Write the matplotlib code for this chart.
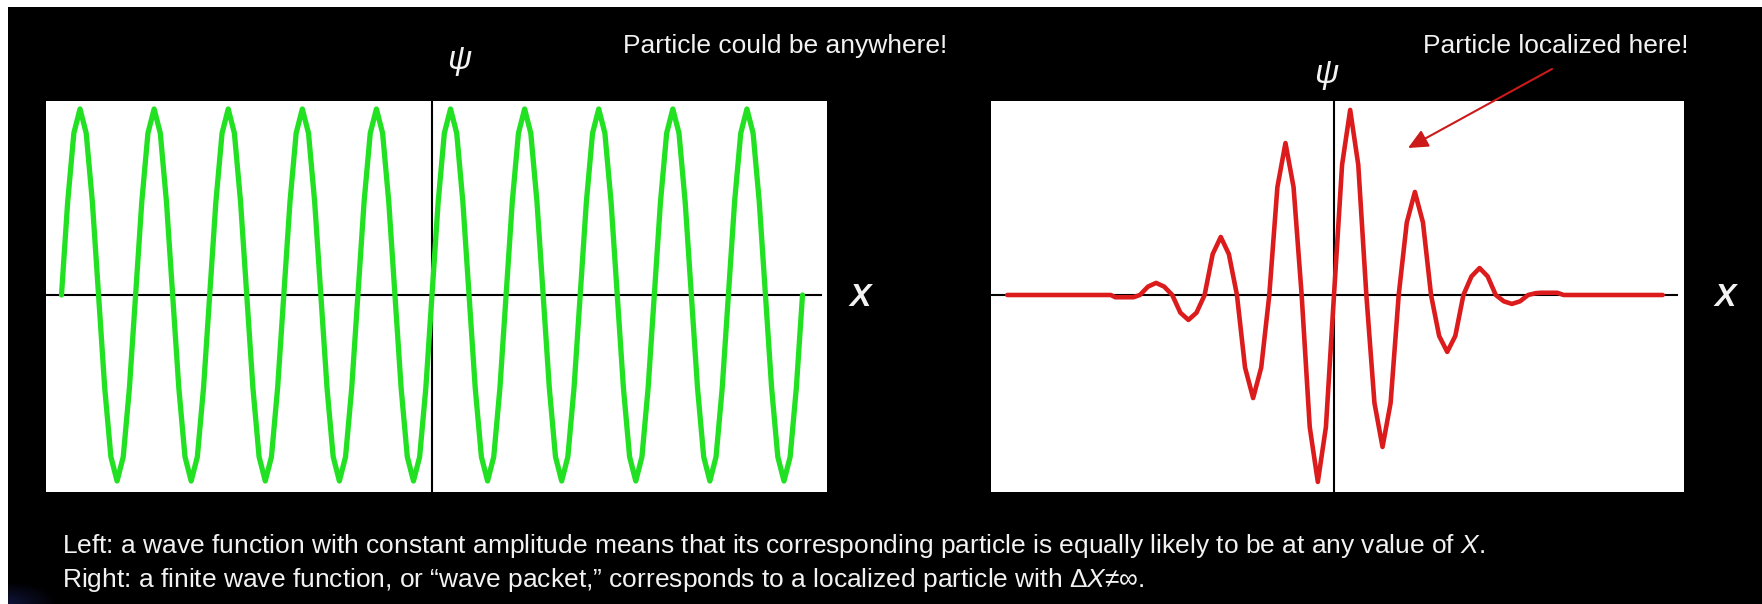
import numpy as np
import matplotlib
matplotlib.use("Agg")
import matplotlib.pyplot as plt
from matplotlib.patches import Rectangle

plt.rcParams['font.family'] = ['Liberation Sans', 'DejaVu Sans']
plt.rcParams['mathtext.fontset'] = 'custom'
plt.rcParams['mathtext.rm'] = 'Liberation Sans'
plt.rcParams['mathtext.it'] = 'Liberation Sans:italic'
plt.rcParams['mathtext.bf'] = 'Liberation Sans:bold:italic'

# ---------------- data ----------------
# Left: constant-amplitude wave (x in wavelengths, psi in relative units)
GREEN_X = np.linspace(-5, 5, 121)
GREEN_Y = [
    0, 0.5, 0.87, 1.0, 0.87, 0.5, 0, -0.5, -0.87, -1.0, -0.87, -0.5,
    0, 0.5, 0.87, 1.0, 0.87, 0.5, 0, -0.5, -0.87, -1.0, -0.87, -0.5,
    0, 0.5, 0.87, 1.0, 0.87, 0.5, 0, -0.5, -0.87, -1.0, -0.87, -0.5,
    0, 0.5, 0.87, 1.0, 0.87, 0.5, 0, -0.5, -0.87, -1.0, -0.87, -0.5,
    0, 0.5, 0.87, 1.0, 0.87, 0.5, 0, -0.5, -0.87, -1.0, -0.87, -0.5,
    0, 0.5, 0.87, 1.0, 0.87, 0.5, 0, -0.5, -0.87, -1.0, -0.87, -0.5,
    0, 0.5, 0.87, 1.0, 0.87, 0.5, 0, -0.5, -0.87, -1.0, -0.87, -0.5,
    0, 0.5, 0.87, 1.0, 0.87, 0.5, 0, -0.5, -0.87, -1.0, -0.87, -0.5,
    0, 0.5, 0.87, 1.0, 0.87, 0.5, 0, -0.5, -0.87, -1.0, -0.87, -0.5,
    0, 0.5, 0.87, 1.0, 0.87, 0.5, 0, -0.5, -0.87, -1.0, -0.87, -0.5,
    0,
]

# Right: wave packet
RED_X = [-5.05, -3.45, -3.38, -3.10,
         -3.0, -2.875, -2.75, -2.625, -2.5, -2.375, -2.25, -2.125,
         -2.0, -1.875, -1.75, -1.625, -1.5, -1.375, -1.25, -1.125,
         -1.0, -0.875, -0.75, -0.625, -0.5, -0.375, -0.25, -0.125,
         0.0, 0.125, 0.25, 0.375, 0.5, 0.625, 0.75, 0.875,
         1.0, 1.125, 1.25, 1.375, 1.5, 1.625, 1.75, 1.875,
         2.0, 2.125, 2.25, 2.375, 2.5, 2.625, 2.75, 2.875,
         3.0, 3.12, 3.2, 3.45, 3.55, 5.08]
RED_Y = [0, 0, -0.012, -0.012,
         0, 0.045, 0.065, 0.045, 0, -0.095, -0.134, -0.095,
         0, 0.22, 0.312, 0.22, 0, -0.39, -0.554, -0.39,
         0, 0.58, 0.817, 0.58, 0, -0.71, -1.005, -0.71,
         0, 0.70, 0.995, 0.70, 0, -0.58, -0.817, -0.58,
         0, 0.39, 0.554, 0.39, 0, -0.22, -0.306, -0.22,
         0, 0.10, 0.145, 0.10, 0, -0.034, -0.048, -0.034,
         0, 0.01, 0.012, 0.012, 0, 0]

LEFT_LABEL = "Particle could be anywhere!"
RIGHT_LABEL = "Particle localized here!"
CAPTION_1 = ("Left: a wave function with constant amplitude means that its "
             "corresponding particle is equally likely to be at any value of $X$.")
CAPTION_2 = ("Right: a finite wave function, or \u201cwave packet,\u201d corresponds "
             "to a localized particle with \u0394$X$\u2260\u221e.")

# ---------------- figure ----------------
W, H = 1762, 604
fig = plt.figure(figsize=(W / 100, H / 100), dpi=100, facecolor='white')


def fx(px):
    return px / W


def fy(py):
    return 1 - py / H


# black slide background
fig.add_artist(Rectangle((fx(8), 0), 1 - fx(8), fy(7), transform=fig.transFigure,
                         facecolor='black', edgecolor='none', zorder=0))

# faint blue glow in the bottom-left corner
glow_ax = fig.add_axes([fx(8), 0, fx(60), 22 / H])
gx, gy = np.meshgrid(np.linspace(0, 1, 60), np.linspace(0, 1, 22))
dist = np.sqrt((gx * 1.0) ** 2 + ((1 - gy) * 0.8) ** 2)
alpha = np.clip(1 - dist * 1.2, 0, 1) * 0.4
img = np.zeros((22, 60, 4))
img[..., 0] = 0.15
img[..., 1] = 0.2
img[..., 2] = 0.55
img[..., 3] = alpha
glow_ax.imshow(img, aspect='auto', origin='upper')
glow_ax.axis('off')


def make_panel(left, right, top, bottom, axis_px, px_per_unit, axis_end_px):
    ax = fig.add_axes([fx(left), fy(bottom), fx(right - left), (bottom - top) / H])
    ax.set_facecolor('white')
    ax.set_xlim((left - axis_px) / px_per_unit, (right - axis_px) / px_per_unit)
    zero_py = 295
    unit = 186
    ax.set_ylim(-(bottom - zero_py) / unit, (zero_py - top) / unit)
    for s in ax.spines.values():
        s.set_visible(False)
    ax.set_xticks([])
    ax.set_yticks([])
    ax.plot([ax.get_xlim()[0], (axis_end_px - axis_px) / px_per_unit], [0, 0],
            color='black', lw=1.5, zorder=1, solid_capstyle='butt')
    ax.axvline(0, color='black', lw=1.5, zorder=1)
    return ax


axL = make_panel(46, 827, 101, 492, 432, 74.1, 822)
axL.plot(GREEN_X, GREEN_Y, color='#22e022', lw=3.8, zorder=2,
         solid_joinstyle='round', solid_capstyle='round')

axR = make_panel(991, 1684, 101, 492, 1334, 64.7, 1678)
axR.plot(RED_X, RED_Y, color='#dc1c1c', lw=3.3, zorder=2,
         solid_joinstyle='round', solid_capstyle='round')

# labels
txt_col = '#f2f2f2'
fig.text(fx(623), fy(53), LEFT_LABEL, color=txt_col, fontsize=19, va='baseline', ha='left')
fig.text(fx(1423), fy(53), RIGHT_LABEL, color=txt_col, fontsize=19, va='baseline', ha='left')

fig.text(fx(460), fy(62), r'$\psi$', color=txt_col, fontsize=24, va='center', ha='center')
fig.text(fx(1327), fy(75), r'$\psi$', color=txt_col, fontsize=24, va='center', ha='center')

fig.text(fx(860), fy(298), 'X', color=txt_col, fontsize=23, fontweight='bold',
         fontstyle='italic', va='center', ha='center')
fig.text(fx(1725), fy(298), 'X', color=txt_col, fontsize=23, fontweight='bold',
         fontstyle='italic', va='center', ha='center')

fig.text(fx(62), fy(553), CAPTION_1, color=txt_col, fontsize=19, va='baseline', ha='left')
fig.text(fx(62), fy(587), CAPTION_2, color=txt_col, fontsize=19, va='baseline', ha='left')

# arrow pointing at the packet
axR.annotate('', xy=(1408, H - 148), xycoords='figure pixels',
             xytext=(1552, H - 69), textcoords='figure pixels',
             arrowprops=dict(arrowstyle='-|>,head_length=0.6,head_width=0.28',
                             mutation_scale=20, color='#cc1a1a', lw=1.5,
                             shrinkA=0, shrinkB=0),
             annotation_clip=False)

fig.savefig('out.png', dpi=100, facecolor=fig.get_facecolor())
